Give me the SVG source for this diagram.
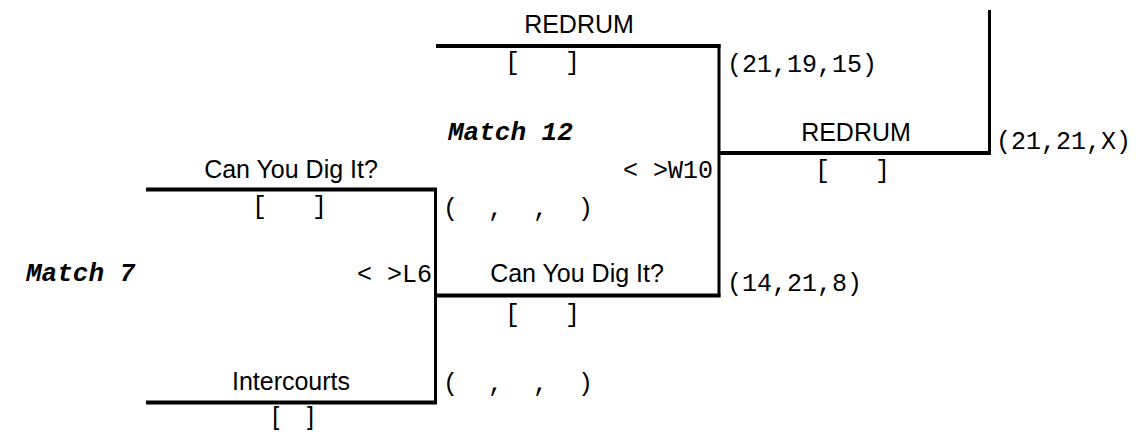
<svg xmlns="http://www.w3.org/2000/svg" width="1136" height="436" viewBox="0 0 1136 436">
<style>
.h{stroke:#000;stroke-width:4;fill:none}
.v{stroke:#000;stroke-width:3;fill:none}
.t{font-family:"Liberation Sans",Arial,sans-serif;font-size:25px;fill:#000;text-anchor:middle}
.m{font-family:"Liberation Mono","Courier New",monospace;font-size:25px;fill:#000}
.b{font-family:"Liberation Mono","Courier New",monospace;font-size:26px;font-weight:bold;font-style:italic;fill:#000}
.e{text-anchor:end}
</style>
<rect width="1136" height="436" fill="#fff"/>
<g id="connectors">
<path class="h" d="M146 189.5H437M146 402.5H437M436 46H720.5M436 295.5H720.5M718 153H991"/>
<path class="v" d="M435.5 188V404M719 44V297M989.5 10V155"/>
</g>
<g id="match7">
<text class="b" x="26" y="281">Match 7</text>
<text class="m e" x="432" y="282">&lt; &gt;L6</text>
</g>
<g id="team-m7-top">
<text class="t" x="291" y="178">Can You Dig It?</text>
<text class="m" x="252" y="214" xml:space="preserve">[   ]</text>
</g>
<g id="team-m7-bottom">
<text class="t" x="291" y="390">Intercourts</text>
<text class="t" x="293" y="425" xml:space="preserve">[    ]</text>
</g>
<g id="match12">
<text class="b" x="448" y="140">Match 12</text>
<text class="m e" x="713" y="178">&lt; &gt;W10</text>
<text class="m" x="443" y="216" xml:space="preserve">(  ,  ,  )</text>
<text class="m" x="443" y="391" xml:space="preserve">(  ,  ,  )</text>
</g>
<g id="team-m12-top">
<text class="t" x="579" y="33">REDRUM</text>
<text class="m" x="505" y="70" xml:space="preserve">[   ]</text>
<text class="m" x="727" y="72">(21,19,15)</text>
</g>
<g id="team-m12-bottom">
<text class="t" x="577" y="282">Can You Dig It?</text>
<text class="m" x="505" y="322" xml:space="preserve">[   ]</text>
<text class="m" x="727" y="291">(14,21,8)</text>
</g>
<g id="final">
<text class="t" x="856" y="141">REDRUM</text>
<text class="m" x="815" y="178" xml:space="preserve">[   ]</text>
<text class="m" x="996" y="149">(21,21,X)</text>
</g>
</svg>
